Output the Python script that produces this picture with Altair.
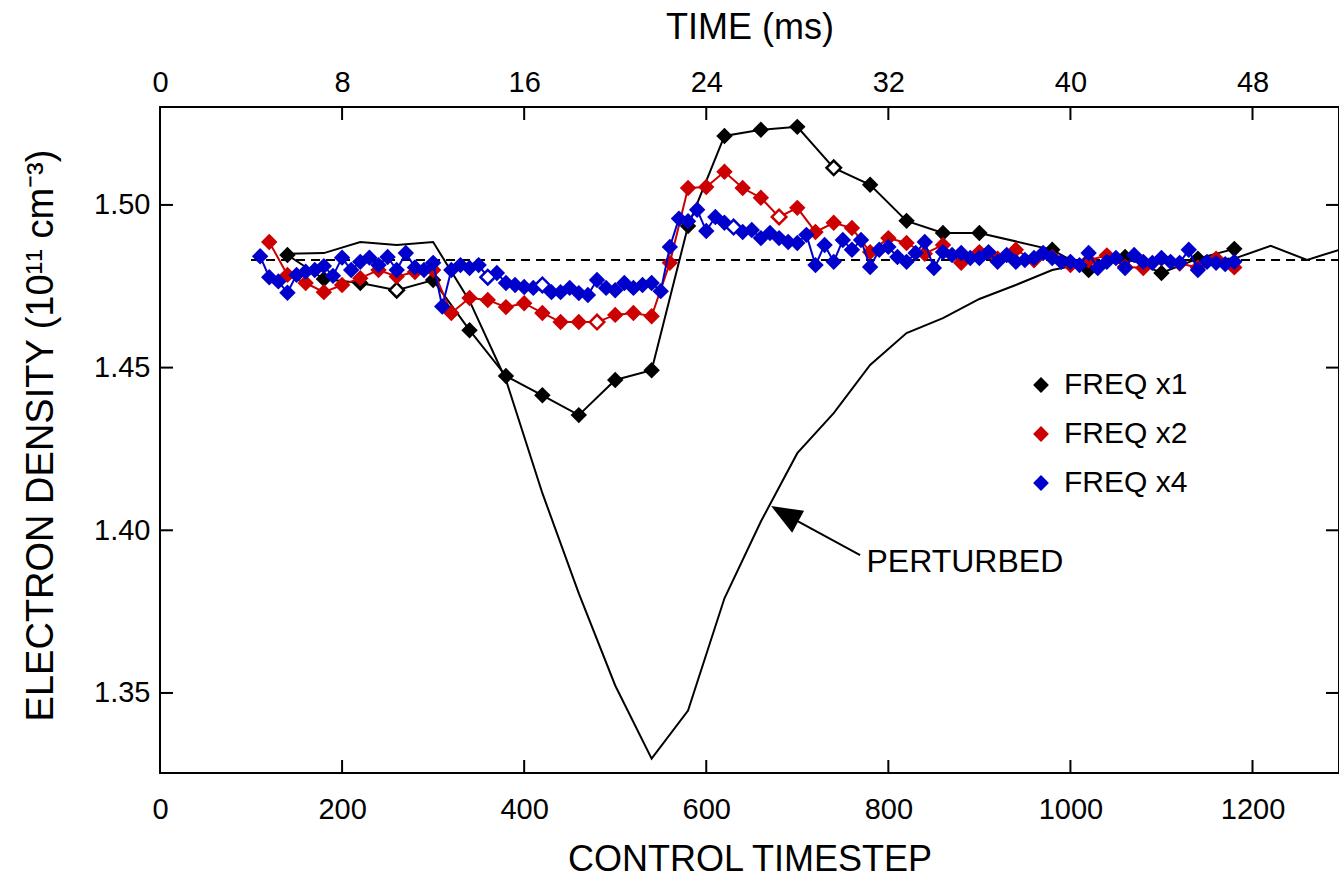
import altair as alt
import pandas as pd

FONT = "Liberation Sans"
W, H = 1179, 666
XMAX = 1295
YMIN, YMAX = 1.3254, 1.5301
MS_PER_STEP = 0.04

SERIES = ["FREQ x1", "FREQ x2", "FREQ x4"]
COLORS = ["#000000", "#cc0000", "#0000cc"]

X_TICKS = [0, 200, 400, 600, 800, 1000, 1200]
Y_TICKS = [1.35, 1.40, 1.45, 1.50]
TIME_TICKS = [0, 8, 16, 24, 32, 40, 48]

BASELINE_VALUE = 1.4831
BASELINE_STEPS = [100, 1295]

PERT_STEPS = [140, 180, 220, 260, 300, 340, 380, 420, 460, 500, 540, 580, 620, 660,
              700, 740, 780, 820, 860, 900, 940, 980, 1020, 1060, 1100, 1140, 1180,
              1220, 1260, 1295]
PERT_VALUES = [1.4850, 1.4852, 1.4886, 1.4877, 1.4886, 1.4705, 1.4462, 1.4114, 1.3806,
               1.3523, 1.3298, 1.3446, 1.3791, 1.4027, 1.4237, 1.4360, 1.4508, 1.4606,
               1.4652, 1.4711, 1.4754, 1.4800, 1.4822, 1.4828, 1.4830, 1.4831, 1.4835,
               1.4874, 1.4831, 1.4862]

X1_STEPS = [140, 180, 220, 260, 300, 340, 380, 420, 460, 500, 540, 580, 620, 660, 700,
            740, 780, 820, 860, 900, 980, 1020, 1060, 1100, 1140, 1180]
X1_VALUES = [1.4846, 1.4772, 1.4760, 1.4738, 1.4769, 1.4615, 1.4474, 1.4415, 1.4354,
             1.4462, 1.4492, 1.4935, 1.5212, 1.5231, 1.5240, 1.5114, 1.5062, 1.4951,
             1.4914, 1.4914, 1.4862, 1.4800, 1.4840, 1.4791, 1.4835, 1.4865]
X1_HOLLOW = [260, 740]

X2_STEPS = list(range(120, 1181, 20))
X2_VALUES = [1.4886, 1.4785, 1.4760, 1.4732, 1.4754, 1.4775, 1.4800, 1.4780, 1.4794, 1.4800,
             1.4668, 1.4714, 1.4708, 1.4686, 1.4698, 1.4668, 1.4640, 1.4640, 1.4640, 1.4662,
             1.4668, 1.4658,
             1.4822, 1.5052, 1.5055, 1.5102, 1.5052, 1.5022, 1.4963, 1.4991, 1.4917, 1.4945,
             1.4929, 1.4855, 1.4898, 1.4883,
             1.4850, 1.4877, 1.4822, 1.4855, 1.4835, 1.4862, 1.4830, 1.4840, 1.4815, 1.4830,
             1.4845, 1.4810, 1.4806, 1.4835, 1.4820, 1.4808, 1.4835, 1.4808]
X2_HOLLOW = [480, 680]

X4_STEPS = list(range(110, 1181, 10))
X4_VALUES = [1.4842, 1.4778, 1.4765, 1.4730, 1.4785, 1.4795, 1.4800, 1.4812, 1.4782, 1.4838,
             1.4800, 1.4825, 1.4838, 1.4815, 1.4840, 1.4800, 1.4852, 1.4808, 1.4800, 1.4822,
             1.4688, 1.4800, 1.4815, 1.4806, 1.4815, 1.4778, 1.4791, 1.4760, 1.4754, 1.4748,
             1.4745, 1.4754, 1.4732, 1.4732, 1.4745, 1.4729, 1.4723, 1.4769, 1.4745, 1.4738,
             1.4760, 1.4745, 1.4754, 1.4760, 1.4735, 1.4871, 1.4958, 1.4950, 1.4985, 1.4920,
             1.4963, 1.4945, 1.4932, 1.4917, 1.4923, 1.4898, 1.4914, 1.4898, 1.4886, 1.4883,
             1.4908, 1.4815, 1.4877, 1.4825, 1.4892, 1.4862, 1.4892, 1.4809, 1.4862, 1.4871,
             1.4840, 1.4825, 1.4852, 1.4886, 1.4806, 1.4855, 1.4846, 1.4852, 1.4837, 1.4837,
             1.4855, 1.4825, 1.4846, 1.4825, 1.4831, 1.4837, 1.4852, 1.4837, 1.4825, 1.4825,
             1.4815, 1.4852, 1.4806, 1.4825, 1.4837, 1.4806, 1.4846, 1.4825, 1.4822, 1.4837,
             1.4825, 1.4822, 1.4862, 1.4800, 1.4825, 1.4822, 1.4818, 1.4825]
X4_HOLLOW = [360, 420, 630]

# annotation: arrow tail, arrow tip, arrowhead centroid, label anchor (step, value)
ARROW_TAIL = (769, 1.3924)
ARROW_TIP = (676, 1.4065)
ARROW_HEAD = (691, 1.4042)
ARROW_HEAD_SHAPE = "M-1,-0.59L0.83,-0.32L0.17,0.9Z"
LABEL_POS = (776, 1.3904)
LABEL_TEXT = "PERTURBED"

assert len(X2_STEPS) == len(X2_VALUES)
assert len(X4_STEPS) == len(X4_VALUES)
assert len(X1_STEPS) == len(X1_VALUES)
assert len(PERT_STEPS) == len(PERT_VALUES)


def series_df(name, steps, values, hollow):
    return pd.DataFrame({"series": name, "step": steps, "value": values,
                         "hollow": [s in hollow for s in steps]})


x_axis = alt.Axis(values=X_TICKS, format="d", title="CONTROL TIMESTEP", labelPadding=22,
                  titleY=86, titleBaseline="middle")
y_axis = alt.Axis(values=Y_TICKS, format=".2f", title="ELECTRON DENSITY (10¹¹ cm⁻³)",
                  labelPadding=10, titleX=-119, titleY=H / 2 - 5, titleBaseline="middle",
                  titleAlign="center", titleAngle=-90, titleFontSize=38)
x_enc = alt.X("step:Q", scale=alt.Scale(domain=[0, XMAX], nice=False, zero=False), axis=x_axis)
y_enc = alt.Y("value:Q", scale=alt.Scale(domain=[YMIN, YMAX], nice=False, zero=False), axis=y_axis)
color_scale = alt.Scale(domain=SERIES, range=COLORS)
legend = alt.Legend(title=None, orient="none", legendX=866, legendY=263, direction="vertical",
                    symbolType="diamond", symbolSize=250, symbolStrokeWidth=0,
                    labelFontSize=30, labelFont=FONT, labelColor="black", rowPadding=19,
                    labelOffset=8, labelLimit=400)

layers = []

# dashed reference level
base_df = pd.DataFrame({"step": BASELINE_STEPS, "value": [BASELINE_VALUE] * 2})
layers.append(alt.Chart(base_df).mark_line(color="black", strokeWidth=2, strokeDash=[9, 6])
              .encode(x=x_enc, y=y_enc))

# perturbed curve
pert_df = pd.DataFrame({"step": PERT_STEPS, "value": PERT_VALUES})
layers.append(alt.Chart(pert_df).mark_line(color="black", strokeWidth=2).encode(x=x_enc, y=y_enc))

for name, col, steps, vals, hol in [
    (SERIES[0], COLORS[0], X1_STEPS, X1_VALUES, X1_HOLLOW),
    (SERIES[1], COLORS[1], X2_STEPS, X2_VALUES, X2_HOLLOW),
    (SERIES[2], COLORS[2], X4_STEPS, X4_VALUES, X4_HOLLOW),
]:
    df = series_df(name, steps, vals, hol)
    base = alt.Chart(df)
    layers.append(base.mark_line(color=col, strokeWidth=2).encode(x=x_enc, y=y_enc))
    layers.append(base.mark_point(shape="diamond", filled=True, size=270, opacity=1,
                                  strokeWidth=0)
                  .transform_filter("!datum.hollow")
                  .encode(x=x_enc, y=y_enc,
                          color=alt.Color("series:N", scale=color_scale, legend=legend)))
    layers.append(base.mark_point(shape="diamond", filled=True, size=210, opacity=1,
                                  fill="white", stroke=col, strokeWidth=2.5)
                  .transform_filter("datum.hollow")
                  .encode(x=x_enc, y=y_enc))

# inward tick marks
xt = pd.DataFrame({"step": X_TICKS})
yt = pd.DataFrame({"value": Y_TICKS})
layers.append(alt.Chart(xt).mark_rule(color="black", strokeWidth=2)
              .encode(x=x_enc, y=alt.value(H), y2=alt.value(H - 13)))
layers.append(alt.Chart(yt).mark_rule(color="black", strokeWidth=2)
              .encode(y=y_enc, x=alt.value(0), x2=alt.value(13)))
layers.append(alt.Chart(yt).mark_rule(color="black", strokeWidth=2)
              .encode(y=y_enc, x=alt.value(W), x2=alt.value(W - 13)))

# annotation arrow + label
shaft = pd.DataFrame({"step": [ARROW_TAIL[0]], "value": [ARROW_TAIL[1]],
                      "step2": [ARROW_TIP[0]], "value2": [ARROW_TIP[1]]})
layers.append(alt.Chart(shaft).mark_rule(color="black", strokeWidth=2)
              .encode(x=x_enc, y=y_enc, x2="step2:Q", y2="value2:Q"))
head = pd.DataFrame({"step": [ARROW_HEAD[0]], "value": [ARROW_HEAD[1]]})
layers.append(alt.Chart(head).mark_point(shape=ARROW_HEAD_SHAPE, filled=True, size=1296,
                                         opacity=1, color="black", strokeWidth=0)
              .encode(x=x_enc, y=y_enc))
lab = pd.DataFrame({"step": [LABEL_POS[0]], "value": [LABEL_POS[1]], "text": [LABEL_TEXT]})
layers.append(alt.Chart(lab).mark_text(align="left", baseline="middle", fontSize=32,
                                       font=FONT, color="black")
              .encode(x=x_enc, y=y_enc, text="text:N"))

main = alt.layer(*layers)

time_df = pd.DataFrame({"ms": TIME_TICKS})
top = alt.Chart(time_df).mark_rule(color="black", strokeWidth=2).encode(
    x=alt.X("ms:Q", scale=alt.Scale(domain=[0, XMAX * MS_PER_STEP], nice=False, zero=False),
            axis=alt.Axis(orient="top", values=TIME_TICKS, format="d", title="TIME (ms)",
                          labelPadding=10, titleY=-80, titleBaseline="middle")),
    y=alt.value(0), y2=alt.value(13))

chart = (alt.layer(main, top)
         .resolve_scale(x="independent")
         .properties(width=W, height=H, autosize=alt.AutoSizeParams(type="none"),
                     padding={"left": 160, "top": 107, "right": 0, "bottom": 107})
         .configure(font=FONT)
         .configure_view(stroke="black", strokeWidth=2)
         .configure_axis(grid=False, ticks=False, domain=False, tickSize=0, labelFont=FONT,
                         labelFontSize=29, labelColor="black", titleFont=FONT,
                         titleFontSize=36, titleFontWeight="normal", titleColor="black",
                         labelFlush=False))

chart.save("out.html", embed_options={"renderer": "svg", "actions": False})
